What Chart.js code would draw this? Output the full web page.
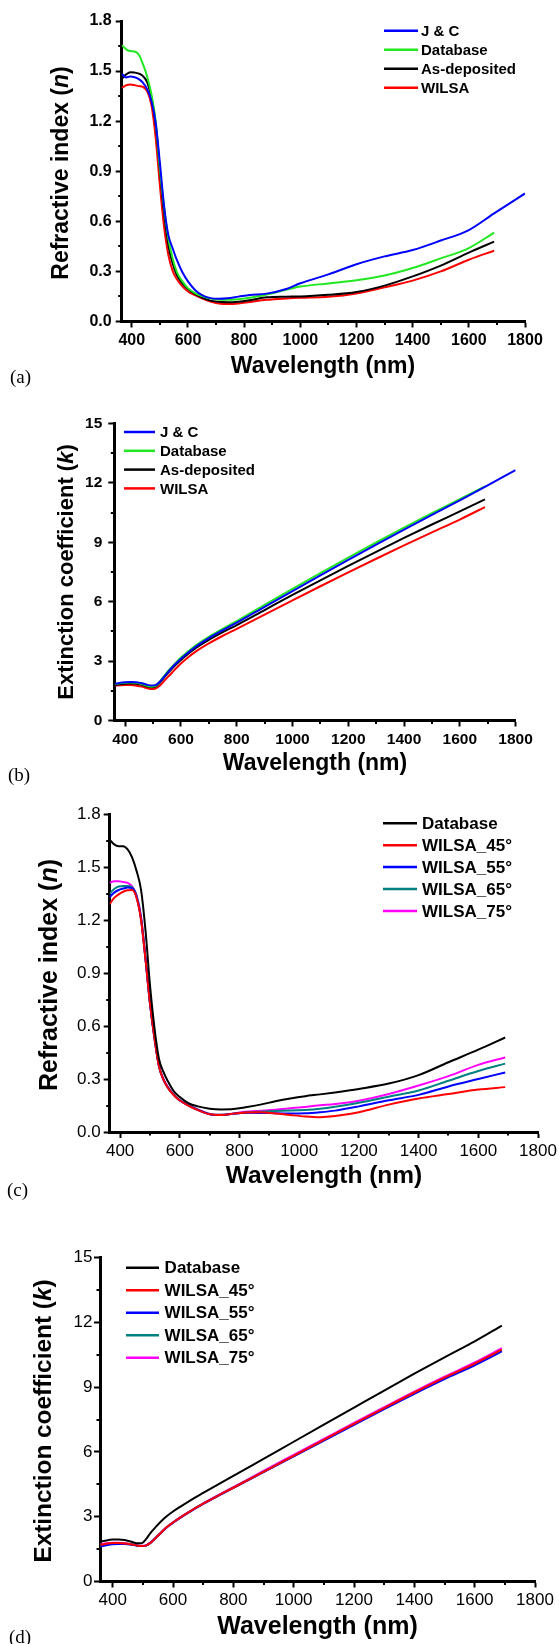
<!DOCTYPE html>
<html>
<head>
<meta charset="utf-8">
<script src="https://cdn.jsdelivr.net/npm/chart.js@4.4.1/dist/chart.umd.min.js"></script>
<style>
html,body{margin:0;padding:0;background:#fff;overflow:hidden;width:559px;height:1644px;}
.panel{position:absolute;left:0;width:600px;}
.tag{position:absolute;font-family:"Liberation Serif","Times New Roman",serif;font-size:19px;line-height:20px;color:#000;}
</style>
</head>
<body>
<div class="panel"><canvas id="pa"></canvas></div>
<div class="panel"><canvas id="pb"></canvas></div>
<div class="panel"><canvas id="pc"></canvas></div>
<div class="panel"><canvas id="pd"></canvas></div>
<div class="tag" style="left:10px;top:367px">(a)</div>
<div class="tag" style="left:8px;top:765px">(b)</div>
<div class="tag" style="left:7px;top:1180px">(c)</div>
<div class="tag" style="left:9px;top:1627px">(d)</div>
<script>
// axis ticks
const xTicks = [400, 600, 800, 1000, 1200, 1400, 1600, 1800];
const xMinor = [500, 700, 900, 1100, 1300, 1500, 1700];
const nTicks = [0, 0.3, 0.6, 0.9, 1.2, 1.5, 1.8];
const nMinor = [0.15, 0.45, 0.75, 1.05, 1.35, 1.65];
const kTicks = [0, 3, 6, 9, 12, 15];
const kMinor = [1.5, 4.5, 7.5, 10.5, 13.5];

// (a) refractive index n
const wlA = [365, 380, 395, 410, 425, 440, 455, 470, 485, 500, 515, 530, 545, 560, 580, 600, 625, 650, 680, 710, 740, 780, 820, 880, 950, 1000, 1100, 1200, 1300, 1400, 1500, 1600, 1690];
const wlAjc = wlA.concat([1800]);
const nJC = [1.482, 1.462, 1.468, 1.463, 1.452, 1.43, 1.39, 1.32, 1.19, 0.95, 0.69, 0.518, 0.44, 0.37, 0.295, 0.24, 0.189, 0.158, 0.14, 0.136, 0.139, 0.149, 0.159, 0.167, 0.195, 0.229, 0.282, 0.343, 0.39, 0.428, 0.485, 0.548, 0.648, 0.767];
const nDbA = [1.655, 1.63, 1.62, 1.617, 1.598, 1.54, 1.465, 1.36, 1.2, 0.915, 0.685, 0.498, 0.38, 0.298, 0.24, 0.2, 0.17, 0.152, 0.137, 0.132, 0.13, 0.134, 0.142, 0.162, 0.19, 0.209, 0.228, 0.247, 0.275, 0.32, 0.378, 0.44, 0.532];
const nAsDep = [1.455, 1.48, 1.493, 1.491, 1.485, 1.47, 1.432, 1.34, 1.18, 0.905, 0.65, 0.458, 0.35, 0.279, 0.228, 0.195, 0.165, 0.143, 0.125, 0.118, 0.115, 0.118, 0.127, 0.145, 0.149, 0.15, 0.16, 0.177, 0.215, 0.27, 0.335, 0.413, 0.478];
const nWilsa = [1.4, 1.415, 1.42, 1.416, 1.41, 1.405, 1.378, 1.295, 1.1, 0.815, 0.565, 0.4, 0.305, 0.255, 0.21, 0.18, 0.158, 0.139, 0.12, 0.108, 0.105, 0.108, 0.117, 0.13, 0.138, 0.142, 0.148, 0.168, 0.205, 0.245, 0.3, 0.37, 0.424];

// (b) extinction coefficient k
const wlB = [365, 380, 400, 420, 440, 460, 480, 495, 510, 525, 540, 560, 580, 600, 625, 650, 700, 750, 800, 900, 1000, 1100, 1200, 1300, 1400, 1500, 1600, 1690];
const wlBjc = wlB.concat([1800]);
const kJC = [1.86, 1.9, 1.93, 1.94, 1.93, 1.88, 1.8, 1.77, 1.8, 1.97, 2.22, 2.55, 2.85, 3.12, 3.42, 3.7, 4.16, 4.56, 4.94, 5.74, 6.54, 7.33, 8.11, 8.88, 9.64, 10.39, 11.12, 11.8, 12.65];
const kDbB = [1.84, 1.88, 1.91, 1.92, 1.9, 1.84, 1.75, 1.71, 1.76, 1.98, 2.26, 2.6, 2.9, 3.18, 3.48, 3.76, 4.22, 4.63, 5.02, 5.84, 6.65, 7.44, 8.22, 8.99, 9.74, 10.47, 11.18, 11.83];
const kAsDep = [1.8, 1.83, 1.86, 1.87, 1.85, 1.8, 1.71, 1.68, 1.72, 1.92, 2.18, 2.5, 2.8, 3.06, 3.36, 3.63, 4.07, 4.46, 4.82, 5.58, 6.34, 7.08, 7.81, 8.52, 9.22, 9.9, 10.56, 11.17];
const kWilsa = [1.77, 1.78, 1.79, 1.79, 1.76, 1.71, 1.63, 1.59, 1.63, 1.77, 2.0, 2.3, 2.6, 2.88, 3.18, 3.45, 3.89, 4.28, 4.63, 5.35, 6.07, 6.78, 7.48, 8.17, 8.84, 9.5, 10.15, 10.78];

// (c) refractive index n vs angle
const wlC = [365, 380, 395, 410, 425, 440, 455, 470, 485, 500, 515, 530, 545, 560, 580, 600, 630, 660, 700, 740, 780, 820, 870, 920, 970, 1020, 1070, 1120, 1200, 1300, 1400, 1500, 1600, 1690];
const nDbC = [1.655, 1.628, 1.618, 1.618, 1.6, 1.555, 1.478, 1.37, 1.14, 0.83, 0.59, 0.415, 0.34, 0.287, 0.23, 0.198, 0.162, 0.145, 0.132, 0.128, 0.13, 0.14, 0.155, 0.174, 0.19, 0.203, 0.213, 0.224, 0.244, 0.274, 0.322, 0.395, 0.466, 0.535];
const n45 = [1.29, 1.325, 1.345, 1.36, 1.368, 1.37, 1.325, 1.2, 0.975, 0.727, 0.53, 0.372, 0.296, 0.25, 0.208, 0.178, 0.148, 0.124, 0.1, 0.096, 0.104, 0.11, 0.112, 0.105, 0.096, 0.088, 0.084, 0.09, 0.112, 0.155, 0.19, 0.215, 0.24, 0.254];
const n55 = [1.33, 1.355, 1.37, 1.378, 1.384, 1.38, 1.33, 1.205, 0.978, 0.728, 0.531, 0.373, 0.297, 0.251, 0.209, 0.179, 0.149, 0.125, 0.101, 0.096, 0.104, 0.109, 0.108, 0.106, 0.105, 0.106, 0.112, 0.121, 0.145, 0.18, 0.21, 0.258, 0.3, 0.337];
const n65 = [1.35, 1.375, 1.39, 1.392, 1.392, 1.385, 1.335, 1.21, 0.98, 0.73, 0.533, 0.374, 0.298, 0.252, 0.21, 0.18, 0.15, 0.126, 0.102, 0.097, 0.104, 0.11, 0.115, 0.119, 0.121, 0.125, 0.132, 0.143, 0.165, 0.2, 0.235, 0.29, 0.345, 0.387];
const n75 = [1.41, 1.42, 1.42, 1.415, 1.41, 1.39, 1.34, 1.22, 0.985, 0.735, 0.535, 0.375, 0.3, 0.255, 0.21, 0.18, 0.152, 0.128, 0.102, 0.097, 0.105, 0.114, 0.12, 0.126, 0.134, 0.142, 0.151, 0.159, 0.177, 0.215, 0.263, 0.316, 0.38, 0.422];

// (d) extinction coefficient k vs angle
const wlD = [360, 380, 400, 420, 440, 460, 480, 495, 510, 525, 540, 560, 580, 600, 625, 650, 700, 750, 800, 900, 1000, 1100, 1200, 1300, 1400, 1500, 1600, 1690];
const kDbD = [1.84, 1.9, 1.94, 1.95, 1.92, 1.85, 1.77, 1.77, 1.95, 2.24, 2.48, 2.78, 3.03, 3.24, 3.47, 3.69, 4.1, 4.5, 4.89, 5.68, 6.47, 7.26, 8.05, 8.84, 9.62, 10.38, 11.12, 11.85];
const k45 = [1.7, 1.75, 1.78, 1.78, 1.76, 1.72, 1.67, 1.64, 1.66, 1.79, 1.98, 2.26, 2.52, 2.73, 2.97, 3.19, 3.6, 3.98, 4.34, 5.08, 5.82, 6.56, 7.3, 8.03, 8.75, 9.44, 10.09, 10.73];
const k55 = [1.62, 1.68, 1.72, 1.74, 1.74, 1.71, 1.66, 1.64, 1.66, 1.79, 1.98, 2.25, 2.51, 2.72, 2.96, 3.18, 3.59, 3.97, 4.33, 5.06, 5.79, 6.52, 7.25, 7.98, 8.69, 9.37, 10.01, 10.65];
const k65 = [1.64, 1.7, 1.74, 1.76, 1.75, 1.72, 1.67, 1.64, 1.66, 1.79, 1.98, 2.26, 2.52, 2.73, 2.97, 3.19, 3.6, 3.98, 4.34, 5.07, 5.8, 6.53, 7.27, 8.0, 8.71, 9.4, 10.05, 10.68];
const k75 = [1.72, 1.77, 1.79, 1.79, 1.77, 1.73, 1.68, 1.65, 1.67, 1.8, 1.99, 2.27, 2.53, 2.74, 2.98, 3.2, 3.62, 4.0, 4.37, 5.12, 5.86, 6.6, 7.34, 8.07, 8.79, 9.48, 10.14, 10.8];

const FF = '"Liberation Sans", Arial, Helvetica, sans-serif';
const BLUE = '#0000ff', GREEN = '#22e822', BLACK = '#000000', RED = '#ff0000', TEAL = '#008080', MAGENTA = '#ff00ff';

function pts(xs, ys) { return ys.map((y, i) => ({x: xs[i], y: y})); }

function drawParts(ctx, parts, cx, cy, rot) {
  ctx.save();
  ctx.translate(cx, cy);
  ctx.rotate(rot);
  ctx.textBaseline = 'middle';
  ctx.fillStyle = '#000';
  let w = 0;
  parts.forEach(p => { ctx.font = p[1]; w += ctx.measureText(p[0]).width; });
  let x = -w / 2;
  parts.forEach(p => { ctx.font = p[1]; ctx.fillText(p[0], x, 0); x += ctx.measureText(p[0]).width; });
  ctx.restore();
}

function makePanel(o) {
  const canvas = document.getElementById(o.id);
  const box = canvas.parentNode;
  box.style.top = o.top + 'px';
  box.style.height = o.h + 'px';
  const L = o.area[0], Tc = o.area[1] - o.top, R = o.area[2], Bc = o.area[3] - o.top;
  const tickFont = {family: FF, size: o.tickSize, weight: o.tickWeight};

  const decor = {
    id: 'decor',
    afterDraw(chart) {
      const ctx = chart.ctx, xs = chart.scales.x, ys = chart.scales.y, ca = chart.chartArea;
      ctx.save();
      ctx.strokeStyle = '#000';
      ctx.lineWidth = 2;
      xMinor.forEach(v => {
        const p = Math.round(xs.getPixelForValue(v));
        ctx.beginPath(); ctx.moveTo(p, ca.bottom); ctx.lineTo(p, ca.bottom + 3.5); ctx.stroke();
      });
      o.yMinor.forEach(v => {
        const p = Math.round(ys.getPixelForValue(v));
        ctx.beginPath(); ctx.moveTo(ca.left, p); ctx.lineTo(ca.left - 3.5, p); ctx.stroke();
      });
      // legend
      const lg = o.legend;
      o.series.forEach((s, i) => {
        const y = lg.y0 - o.top + i * lg.dy;
        ctx.strokeStyle = s.color;
        ctx.lineWidth = 2.5;
        ctx.beginPath(); ctx.moveTo(lg.x1, y); ctx.lineTo(lg.x2, y); ctx.stroke();
        ctx.fillStyle = '#000';
        ctx.font = 'bold ' + lg.size + 'px ' + FF;
        ctx.textBaseline = 'middle';
        ctx.textAlign = 'left';
        ctx.fillText(s.label, lg.tx, y + 1);
      });
      ctx.restore();
      // axis titles
      const tf = 'bold ' + o.xTitle[2] + 'px ' + FF;
      drawParts(ctx, [['Wavelength (nm)', tf]], o.xTitle[0], o.xTitle[1] - o.top, 0);
      const yf = 'bold ' + o.yTitle[2] + 'px ' + FF;
      const yi = 'italic bold ' + o.yTitle[2] + 'px ' + FF;
      drawParts(ctx, [[o.yText[0], yf], [o.yText[1], yi], [o.yText[2], yf]], o.yTitle[0], o.yTitle[1] - o.top, -Math.PI / 2);
    }
  };

  new Chart(canvas, {
    type: 'line',
    data: {
      datasets: o.series.map(s => ({
        label: s.label,
        data: pts(s.x, s.y),
        borderColor: s.color,
        borderWidth: 2,
        pointRadius: 0,
        fill: false,
        cubicInterpolationMode: 'monotone'
      }))
    },
    options: {
      responsive: true,
      maintainAspectRatio: false,
      animation: false,
      devicePixelRatio: 1,
      layout: {padding: {top: Tc, right: 600 - R, left: 0, bottom: 0}},
      plugins: {legend: {display: false}, tooltip: {enabled: false}},
      scales: {
        x: {
          type: 'linear', min: o.xMin, max: 1800, bounds: 'data',
          afterBuildTicks: s => { s.ticks = xTicks.map(v => ({value: v})); },
          afterFit: s => { s.height = o.h - Bc; },
          grid: {display: true, drawOnChartArea: false, drawTicks: true, tickLength: 6, tickWidth: 2, tickColor: '#000'},
          border: {display: true, width: 3, color: '#000'},
          ticks: {font: tickFont, color: '#000', padding: o.xPad, maxRotation: 0, autoSkip: false, callback: v => String(v)}
        },
        y: {
          type: 'linear', min: 0, max: o.yMax, bounds: 'data',
          afterBuildTicks: s => { s.ticks = o.yTicks.map(v => ({value: v})); },
          afterFit: s => { s.width = L; },
          grid: {display: true, drawOnChartArea: false, drawTicks: true, tickLength: 6, tickWidth: 2, tickColor: '#000'},
          border: {display: true, width: 3, color: '#000'},
          ticks: {font: tickFont, color: '#000', padding: o.yPad, autoSkip: false, callback: v => o.yFmt(v)}
        }
      }
    },
    plugins: [decor]
  });
}

const fmtN = v => v.toFixed(1);
const fmtK = v => String(Math.round(v));

makePanel({
  id: 'pa', top: 0, h: 405, area: [121.7, 21, 525, 321.5], xMin: 364, yMax: 1.8,
  yTicks: nTicks, yMinor: nMinor, yFmt: fmtN, tickSize: 16, tickWeight: 'bold', xPad: 3, yPad: 4,
  xTitle: [323, 366.7, 23], yTitle: [62, 173, 23], yText: ['Refractive index (', 'n', ')'],
  legend: {x1: 384, x2: 418, tx: 421, y0: 30.7, dy: 19, size: 15},
  series: [
    {label: 'J & C', color: BLUE, x: wlAjc, y: nJC},
    {label: 'Database', color: GREEN, x: wlA, y: nDbA},
    {label: 'As-deposited', color: BLACK, x: wlA, y: nAsDep},
    {label: 'WILSA', color: RED, x: wlA, y: nWilsa}
  ]
});

makePanel({
  id: 'pb', top: 405, h: 390, area: [114.3, 423.5, 515.6, 720.5], xMin: 361, yMax: 15,
  yTicks: kTicks, yMinor: kMinor, yFmt: fmtK, tickSize: 15.5, tickWeight: 'bold', xPad: 3.5, yPad: 6,
  xTitle: [315, 763.3, 23], yTitle: [66.7, 572, 22], yText: ['Extinction coefficient (', 'k', ')'],
  legend: {x1: 124, x2: 155, tx: 160, y0: 432, dy: 18.8, size: 15},
  series: [
    {label: 'J & C', color: BLUE, x: wlBjc, y: kJC},
    {label: 'Database', color: GREEN, x: wlB, y: kDbB},
    {label: 'As-deposited', color: BLACK, x: wlB, y: kAsDep},
    {label: 'WILSA', color: RED, x: wlB, y: kWilsa}
  ]
});

makePanel({
  id: 'pc', top: 795, h: 415, area: [109.7, 814, 538, 1132], xMin: 365, yMax: 1.8,
  yTicks: nTicks, yMinor: nMinor, yFmt: fmtN, tickSize: 17, tickWeight: 'normal', xPad: 3.5, yPad: 3,
  xTitle: [324, 1176.7, 24.5], yTitle: [50, 975, 25], yText: ['Refractive index (', 'n', ')'],
  legend: {x1: 383, x2: 417, tx: 422, y0: 823.3, dy: 21.9, size: 17},
  series: [
    {label: 'Database', color: BLACK, x: wlC, y: nDbC},
    {label: 'WILSA_45\u00b0', color: RED, x: wlC, y: n45},
    {label: 'WILSA_55\u00b0', color: BLUE, x: wlC, y: n55},
    {label: 'WILSA_65\u00b0', color: TEAL, x: wlC, y: n65},
    {label: 'WILSA_75\u00b0', color: MAGENTA, x: wlC, y: n75}
  ]
});

makePanel({
  id: 'pd', top: 1210, h: 434, area: [100, 1257.5, 535, 1581.5], xMin: 358, yMax: 15,
  yTicks: kTicks, yMinor: kMinor, yFmt: fmtK, tickSize: 17, tickWeight: 'normal', xPad: 3, yPad: 1.5,
  xTitle: [317.5, 1626.7, 25], yTitle: [44, 1421, 24.4], yText: ['Extinction coefficient (', 'k', ')'],
  legend: {x1: 126, x2: 159, tx: 164.6, y0: 1267.7, dy: 22.5, size: 17},
  series: [
    {label: 'Database', color: BLACK, x: wlD, y: kDbD},
    {label: 'WILSA_45\u00b0', color: RED, x: wlD, y: k45},
    {label: 'WILSA_55\u00b0', color: BLUE, x: wlD, y: k55},
    {label: 'WILSA_65\u00b0', color: TEAL, x: wlD, y: k65},
    {label: 'WILSA_75\u00b0', color: MAGENTA, x: wlD, y: k75}
  ]
});
</script>
</body>
</html>
